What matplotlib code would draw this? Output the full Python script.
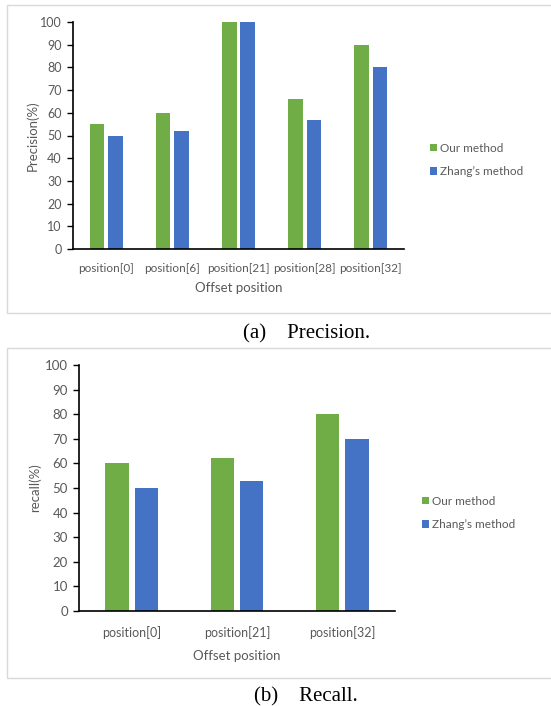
import numpy as np
import matplotlib
matplotlib.use('Agg')
import matplotlib.pyplot as plt
from matplotlib.patches import Rectangle

# Data
prec_labels = ['position[0]', 'position[6]', 'position[21]', 'position[28]', 'position[32]']
prec_ours = [55, 60, 100, 66, 90]
prec_zhang = [50, 52, 100, 57, 80]

rec_labels = ['position[0]', 'position[21]', 'position[32]']
rec_ours = [60, 62, 80]
rec_zhang = [50, 53, 70]

GREEN = '#70AD47'
BLUE = '#4472C4'
GREY = '#595959'
W, H = 551, 706

plt.rcParams['font.family'] = ['Lato', 'DejaVu Sans']

fig = plt.figure(figsize=(W / 100, H / 100), dpi=100)


def px_axes(x0, y0, x1, y1):
    """Axes from pixel box (left, top, right, bottom)"""
    return fig.add_axes([x0 / W, 1 - y1 / H, (x1 - x0) / W, (y1 - y0) / H])


def frame(x0, y0, x1, y1):
    fig.patches.append(Rectangle((x0 / W, 1 - y1 / H), (x1 - x0) / W, (y1 - y0) / H,
                                 transform=fig.transFigure, fill=False,
                                 edgecolor='#d9d9d9', linewidth=1.0))


def draw(ax, labels, ours, zhang, ylabel, leg_xy, xpad, xlabelpad, ylabelpad, size):
    x = np.arange(len(labels))
    ax.bar(x - 0.14, ours, width=0.22, color=GREEN, label='Our method')
    ax.bar(x + 0.14, zhang, width=0.22, color=BLUE, label="Zhang\u2019s method")
    ax.set_xlim(-0.5, len(labels) - 0.5)
    ax.set_ylim(0, 100)
    ax.set_yticks(range(0, 101, 10))
    ax.set_xticks(x)
    ax.set_xticklabels(labels)
    for s in ['top', 'right']:
        ax.spines[s].set_visible(False)
    for s in ['left', 'bottom']:
        ax.spines[s].set_color('black')
        ax.spines[s].set_linewidth(1.2)
    ax.tick_params(axis='y', direction='out', length=4, width=1.0, labelsize=size + 0.5,
                   colors='black', labelcolor=GREY, pad=4)
    ax.tick_params(axis='x', length=0, labelsize=size, labelcolor=GREY, pad=xpad)
    ax.set_xlabel('Offset position', fontsize=9.5, color=GREY, labelpad=xlabelpad)
    ax.set_ylabel(ylabel, fontsize=9.5, color=GREY, labelpad=ylabelpad)
    ax.legend(loc='upper left', bbox_to_anchor=(leg_xy[0] / W, 1 - leg_xy[1] / H),
              bbox_transform=fig.transFigure, frameon=False, fontsize=8.5,
              handlelength=0.6, handleheight=0.6, handletextpad=0.25,
              labelspacing=1.05, labelcolor=GREY, borderpad=0)


# (a) Precision
frame(7, 5, 560, 313)
ax1 = px_axes(73, 22, 404, 249)
draw(ax1, prec_labels, prec_ours, prec_zhang, 'Precision(%)', (424, 137), 10, 6, 1, 8.5)
fig.text(307 / W, 1 - 334 / H, '(a)    Precision.', ha='center', va='center',
         fontsize=15, family='Liberation Serif')

# (b) Recall
frame(7, 348, 560, 678)
ax2 = px_axes(79, 365, 395, 611)
draw(ax2, rec_labels, rec_ours, rec_zhang, 'recall(%)', (416, 490), 11, 8, 3, 9)
fig.text(306 / W, 1 - 697 / H, '(b)    Recall.', ha='center', va='center',
         fontsize=15, family='Liberation Serif')

fig.savefig('out.png', dpi=100)
